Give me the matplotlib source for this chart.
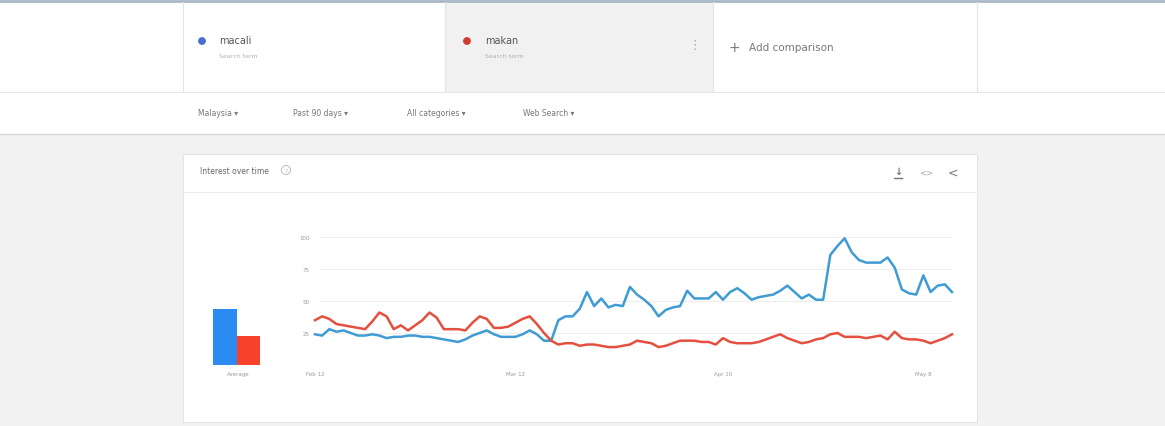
import matplotlib.pyplot as plt
from matplotlib.patches import Rectangle, Ellipse
from matplotlib.lines import Line2D
import numpy as np

# Search terms and daily interest (past 90 days)
terms = ['macali', 'makan']
macali = [24, 23, 28, 26, 27, 25, 23, 23, 24, 23, 21, 22, 22, 23, 23, 22, 22, 21, 20, 19,
          18, 20, 23, 25, 27, 24, 22, 22, 22, 24, 27, 24, 19, 19, 35, 38, 38, 44, 57, 46,
          52, 45, 47, 46, 61, 55, 51, 46, 38, 43, 45, 46, 58, 52, 52, 52, 57, 51, 57, 60,
          56, 51, 53, 54, 55, 58, 62, 57, 52, 55, 51, 51, 86, 93, 99, 88, 82, 80, 80, 80,
          84, 76, 59, 56, 55, 70, 57, 62, 63, 57]
makan = [35, 38, 36, 32, 31, 30, 29, 28, 34, 41, 38, 28, 31, 27, 31, 35, 41, 37, 28, 28,
         28, 27, 33, 38, 36, 29, 29, 30, 33, 36, 38, 32, 25, 19, 16, 17, 17, 15, 16, 16,
         15, 14, 14, 15, 16, 19, 18, 17, 14, 15, 17, 19, 19, 19, 18, 18, 16, 21, 18, 17,
         17, 17, 18, 20, 22, 24, 21, 19, 17, 18, 20, 21, 24, 25, 22, 22, 22, 21, 22, 23,
         20, 26, 21, 20, 20, 19, 17, 19, 21, 24]
averages = [44, 23]
y_ticks = [25, 50, 75, 100]
x_tick_days = [0, 28, 57, 85]
x_tick_labels = ['Feb 12', 'Mar 12', 'Apr 10', 'May 8']
filters = ['Malaysia \u25be', 'Past 90 days \u25be', 'All categories \u25be', 'Web Search \u25be']
filter_x = [198, 293, 407, 523]

W, H = 1165, 427
LINE_BLUE = '#3f9bd3'
LINE_RED = '#e4503f'
BAR_BLUE = '#2b8bf2'
BAR_RED = '#f7412a'
GREY_TXT = '#9a9a9a'

fig = plt.figure(figsize=(W / 100, H / 100), dpi=100)
fig.patch.set_facecolor('#f2f2f2')


def box(x0, y0, x1, y1):
    # pixel box (top-left origin) -> figure fraction [l, b, w, h]
    return [x0 / W, 1 - y1 / H, (x1 - x0) / W, (y1 - y0) / H]


def rect(x0, y0, x1, y1, fc, ec='none', lw=0.8):
    fig.add_artist(Rectangle((x0 / W, 1 - y1 / H), (x1 - x0) / W, (y1 - y0) / H,
                             transform=fig.transFigure, fc=fc, ec=ec, lw=lw, zorder=-5))


def dot(x, y, r, **kw):
    fig.add_artist(Ellipse((x / W, 1 - y / H), 2 * r / W, 2 * r / H,
                           transform=fig.transFigure, **kw))


def hline(y, x0, x1, color='#e0e0e0', lw=0.8):
    fig.add_artist(Line2D([x0 / W, x1 / W], [1 - y / H, 1 - y / H], color=color, lw=lw,
                          transform=fig.transFigure, zorder=-4))


def vline(x, y0, y1, color='#e3e3e3', lw=0.8):
    fig.add_artist(Line2D([x / W, x / W], [1 - y0 / H, 1 - y1 / H], color=color, lw=lw,
                          transform=fig.transFigure, zorder=-4))


def text(x, y, s, **kw):
    fig.text(x / W, 1 - y / H, s, va='center', **kw)


# header band with the term cards
rect(0, 0, W, 135, 'white')
rect(445, 3, 713, 93, '#f1f1f1')
hline(1.5, 0, W, color='#a9b6c9', lw=2)
for xv in [183, 445, 713, 977]:
    vline(xv, 3, 93)
hline(93, 0, W, color='#e6e6e6')
hline(135, 0, W, color='#d6d6d6', lw=1)

dot(202, 42, 3.2, color='#4a6fd0')
dot(467, 42, 3.2, color='#d23c30')
text(219, 41, terms[0], fontsize=7, color='#555555')
text(219, 56, 'Search term', fontsize=4.5, color='#b0b0b0')
text(485, 41, terms[1], fontsize=7, color='#555555')
text(485, 56, 'Search term', fontsize=4.5, color='#b0b0b0')
text(688, 45, '\u22ee', fontsize=9, color='#aaaaaa')
text(728, 48, '+', fontsize=10, color='#777777')
text(749, 48, 'Add comparison', fontsize=7.5, color='#777777')
for fx, label in zip(filter_x, filters):
    text(fx, 114, label, fontsize=5.5, color='#777777')

# chart card
rect(183, 155, 977, 423, 'white', ec='#e4e4e4')
hline(193, 183, 977, color='#ececec')
text(200, 172, 'Interest over time', fontsize=5.5, color='#666666')
dot(286, 171, 4.5, fill=False, ec='#bbbbbb', lw=0.7)
text(286, 171.5, '?', fontsize=4.5, color='#bbbbbb', ha='center')
text(898, 172, '\u2193', fontsize=7, color='#777777', ha='center', fontweight='bold')
hline(179, 894, 902, color='#777777', lw=1)
text(926, 173, '<>', fontsize=6, color='#aaaaaa', ha='center')
text(953, 173, '<', fontsize=9, color='#777777', ha='center')

# average bars
ax_avg = fig.add_axes(box(197, 238, 280, 366))
ax_avg.bar([0, 1], averages, width=1.0, color=[BAR_BLUE, BAR_RED])
ax_avg.set_xlim(-1.18, 2.35)
ax_avg.set_ylim(0, 100)
ax_avg.axis('off')
ax_avg.axhline(0, color='#dddddd', lw=0.8)
text(238, 375, 'Average', fontsize=4, color=GREY_TXT, ha='center')

# main line chart
ax = fig.add_axes(box(315, 238, 952, 366))
days = np.arange(len(macali))
ax.plot(days, macali, color=LINE_BLUE, lw=1.8, clip_on=False, zorder=3)
ax.plot(days, makan, color=LINE_RED, lw=1.8, clip_on=False, zorder=3)
ax.set_xlim(0, len(days) - 1)
ax.set_ylim(0, 100)
for yt in y_ticks:
    ax.axhline(yt, color='#eeeeee', lw=0.8, xmin=0.01, xmax=1.0, zorder=1)
ax.axhline(0, color='#d8d8d8', lw=0.8, zorder=1)
for s in ax.spines.values():
    s.set_visible(False)
ax.set_yticks(y_ticks)
ax.set_yticklabels([str(v) for v in y_ticks])
ax.set_xticks(x_tick_days)
ax.set_xticklabels(x_tick_labels)
ax.tick_params(length=0, labelsize=4, labelcolor=GREY_TXT, pad=4)
ax.set_facecolor('none')

fig.savefig('out.png', dpi=100, facecolor=fig.get_facecolor())
